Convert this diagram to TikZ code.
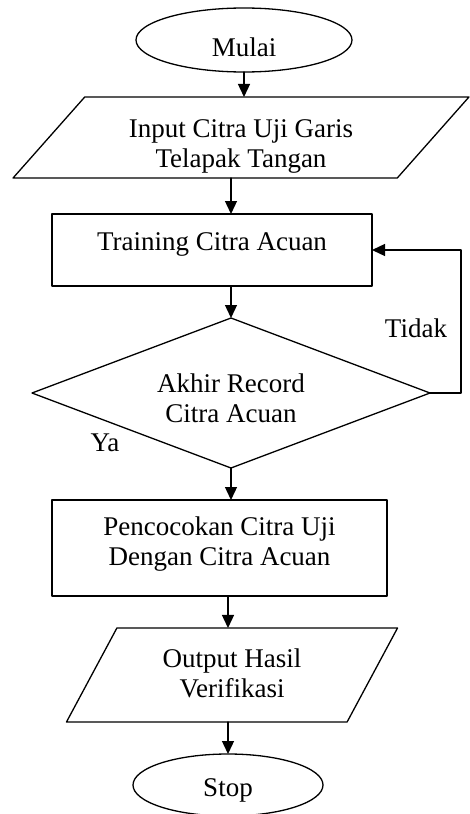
\documentclass[tikz,border=0pt]{standalone}
\usepackage{fontspec}
\setmainfont{Liberation Serif}
\usetikzlibrary{shapes.geometric,arrows.meta}

% text moved inside its box, and two centred lines
\newcommand{\movetext}[2]{\raisebox{#1}[\height][\depth]{#2}}
\newcommand{\twolines}[3]{\parbox[c]{#1}{\centering #2\\#3}}

\begin{document}
\begin{tikzpicture}[x=1pt, y=1pt, line cap=round, line join=round, line width=1.3pt,
    >={Triangle[width=12pt,length=13pt]},
    every node/.style={font=\fontsize{27}{30}\selectfont, align=center, inner sep=0pt, outer sep=0pt},
    terminal/.style={draw, ellipse},
    process/.style={draw, rectangle},
    io/.style={draw, trapezium, trapezium stretches=true},
    decision/.style={draw, diamond, aspect=2.65}]

    % Page frame
    \useasboundingbox (0,0) rectangle (470,-814);

    % Define nodes
    \node[terminal, minimum width=216, minimum height=64] (mulai) at (244,-40)
        {\movetext{-7pt}{Mulai}};
    \node[io, trapezium left angle=42, trapezium right angle=138,
        minimum width=458, minimum height=81] (input) at (241,-137.5)
        {\movetext{-9pt}{\twolines{260pt}{Input Citra Uji Garis}{Telapak Tangan}}};
    \node[process, minimum width=320, minimum height=72] (train) at (212,-250)
        {\movetext{6pt}{Training Citra Acuan}};
    \node[decision, minimum width=398, minimum height=150] (cek) at (231,-393)
        {\movetext{-5pt}{\twolines{150pt}{Akhir Record}{Citra Acuan}}};
    \node[process, minimum width=335, minimum height=96] (match) at (219.5,-548)
        {\movetext{4pt}{\twolines{300pt}{Pencocokan Citra Uji}{Dengan Citra Acuan}}};
    \node[io, trapezium left angle=54.5, trapezium right angle=125.5,
        minimum width=332, minimum height=94] (output) at (232,-675)
        {\movetext{2pt}{\twolines{160pt}{Output Hasil}{Verifikasi}}};
    \node[terminal, minimum width=190, minimum height=62] (stop) at (228,-785)
        {\movetext{-5pt}{Stop}};

    % Draw connectors
    \draw[->] (mulai.south) -- (mulai.south |- input.north);
    \draw[->] (input.south -| cek.north) -- (cek.north |- train.north);
    \draw[->] (train.south -| cek.north) -- (cek.north);
    \draw[->] (cek.south) -- (cek.south |- match.north);
    \draw[->] (match.south -| stop.north) -- (stop.north |- output.north);
    \draw[->] (output.south -| stop.north) -- (stop.north);

    % Loop back when not at last record
    \draw[->] (cek.east) -- ++(31,0) |- (train.east);

    % Branch labels
    \node (tidak) at (416,-328) {Tidak};
    \node (ya) at (105,-443) {Ya};

\end{tikzpicture}
\end{document}
